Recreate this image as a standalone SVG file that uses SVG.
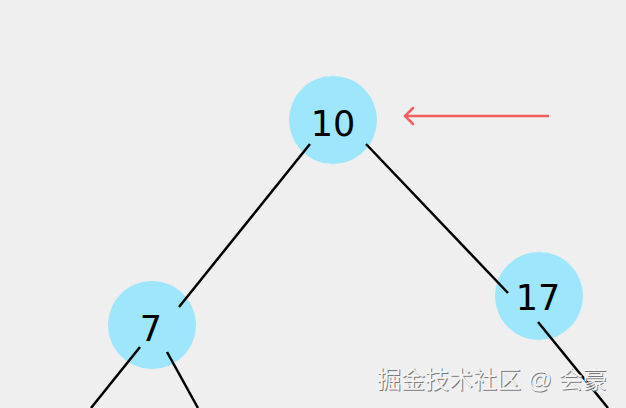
<svg xmlns="http://www.w3.org/2000/svg" width="626" height="408" viewBox="0 0 626 408">
<defs>
<style>
.node circle{fill:#9de6fb}
.node text{font-family:"DejaVu Sans","Liberation Sans",sans-serif;font-size:35px;fill:#000;text-anchor:middle;dominant-baseline:central}
.edge{stroke:#000;stroke-width:2.5;fill:none}
.wm{font-family:"Liberation Sans","Noto Sans CJK SC",sans-serif;font-size:24px}
</style>
</defs>
<rect width="626" height="408" fill="#efefef"/>
<g id="nodes">
<g id="n10" class="node"><circle cx="333" cy="120" r="44"/><text x="333" y="124">10</text></g>
<g id="n7" class="node"><circle cx="152" cy="325" r="44"/><text x="151" y="329">7</text></g>
<g id="n17" class="node"><circle cx="539" cy="296" r="44"/><text x="538" y="298">17</text></g>
</g>
<g id="connectors">
<line class="edge" x1="310" y1="144" x2="179" y2="307"/>
<line class="edge" x1="366" y1="144" x2="508" y2="293"/>
<line class="edge" x1="140" y1="347" x2="91" y2="408"/>
<line class="edge" x1="167" y1="352" x2="198" y2="408"/>
<line class="edge" x1="538" y1="322" x2="608" y2="408"/>
<g stroke="#ef5f5f" stroke-width="2.5" fill="none" stroke-linecap="round">
<line x1="548" y1="116" x2="406" y2="116"/>
<polyline points="413,108 405,116 413,124"/>
</g>
</g>
<text class="wm" x="377" y="388" fill="#777" transform="translate(0.9,0.9)">掘金技术社区 @ 会豪</text>
<text class="wm" x="377" y="388" fill="#f4f4f4">掘金技术社区 @ 会豪</text>
</svg>
